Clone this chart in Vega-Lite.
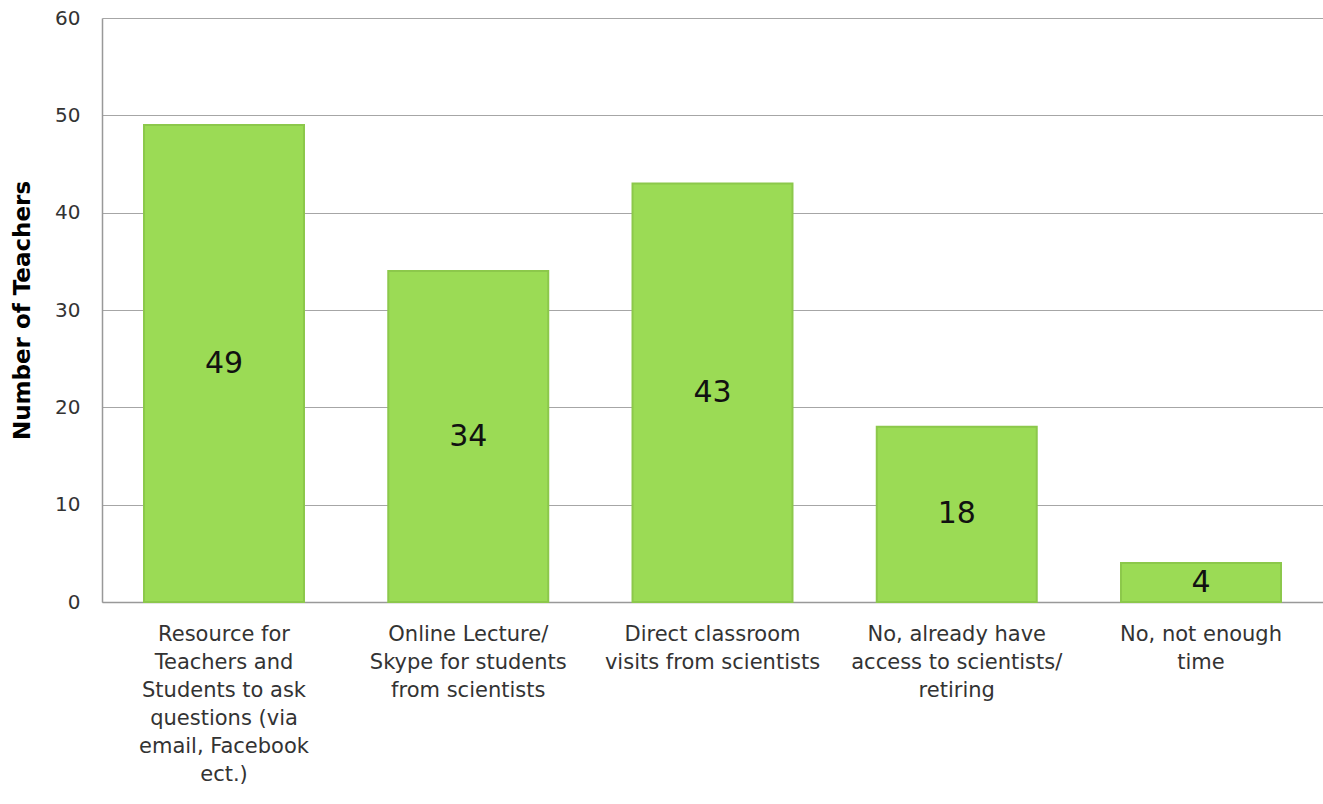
{
  "$schema": "https://vega.github.io/schema/vega-lite/v6.json",
  "width": 1221,
  "height": 584,
  "autosize": {"type": "none"},
  "padding": {"left": 102, "top": 18, "right": 0, "bottom": 202},
  "background": "white",
  "config": {"view": {"stroke": null}, "font": "DejaVu Sans"},
  "data": {
    "values": [
      {"category": "Resource for|Teachers and|Students to ask|questions (via|email, Facebook|ect.)", "teachers": 49, "order": 1},
      {"category": "Online Lecture/|Skype for students|from scientists", "teachers": 34, "order": 2},
      {"category": "Direct classroom|visits from scientists", "teachers": 43, "order": 3},
      {"category": "No, already have|access to scientists/|retiring", "teachers": 18, "order": 4},
      {"category": "No, not enough|time", "teachers": 4, "order": 5}
    ]
  },
  "encoding": {
    "x": {
      "field": "category",
      "type": "nominal",
      "sort": {"field": "order"},
      "scale": {"paddingInner": 0.345, "paddingOuter": 0.172},
      "axis": {
        "title": null,
        "labelAngle": 0,
        "labelExpr": "split(datum.label, '|')",
        "labelFontSize": 21,
        "labelColor": "#333333",
        "labelLineHeight": 28,
        "labelPadding": 21,
        "labelLimit": 300,
        "labelOverlap": false,
        "ticks": false,
        "domainColor": "#999999",
        "domainWidth": 1.5
      }
    }
  },
  "resolve": {"scale": {"y": "independent"}},
  "layer": [
    {
      "mark": {"type": "bar", "color": "#9BDB55", "stroke": "#8CC84B", "strokeWidth": 2},
      "encoding": {
        "y": {
          "field": "teachers",
          "type": "quantitative",
          "scale": {"domain": [0, 60]},
          "axis": {
            "title": "Number of Teachers",
            "titleFontSize": 23,
            "titleFontWeight": "bold",
            "titleColor": "#000000",
            "titlePadding": 20,
            "values": [0, 10, 20, 30, 40, 50, 60],
            "labelFontSize": 20,
            "labelColor": "#333333",
            "labelPadding": 22,
            "ticks": false,
            "gridColor": "#A6A6A6",
            "gridWidth": 1.2,
            "domainColor": "#999999",
            "domainWidth": 1.5
          }
        }
      }
    },
    {
      "mark": {"type": "text", "fontSize": 30, "color": "#111111", "baseline": "middle"},
      "encoding": {
        "y": {"field": "teachers", "type": "quantitative", "scale": {"domain": [0, 120]}, "axis": null},
        "text": {"field": "teachers", "type": "quantitative"}
      }
    }
  ]
}
